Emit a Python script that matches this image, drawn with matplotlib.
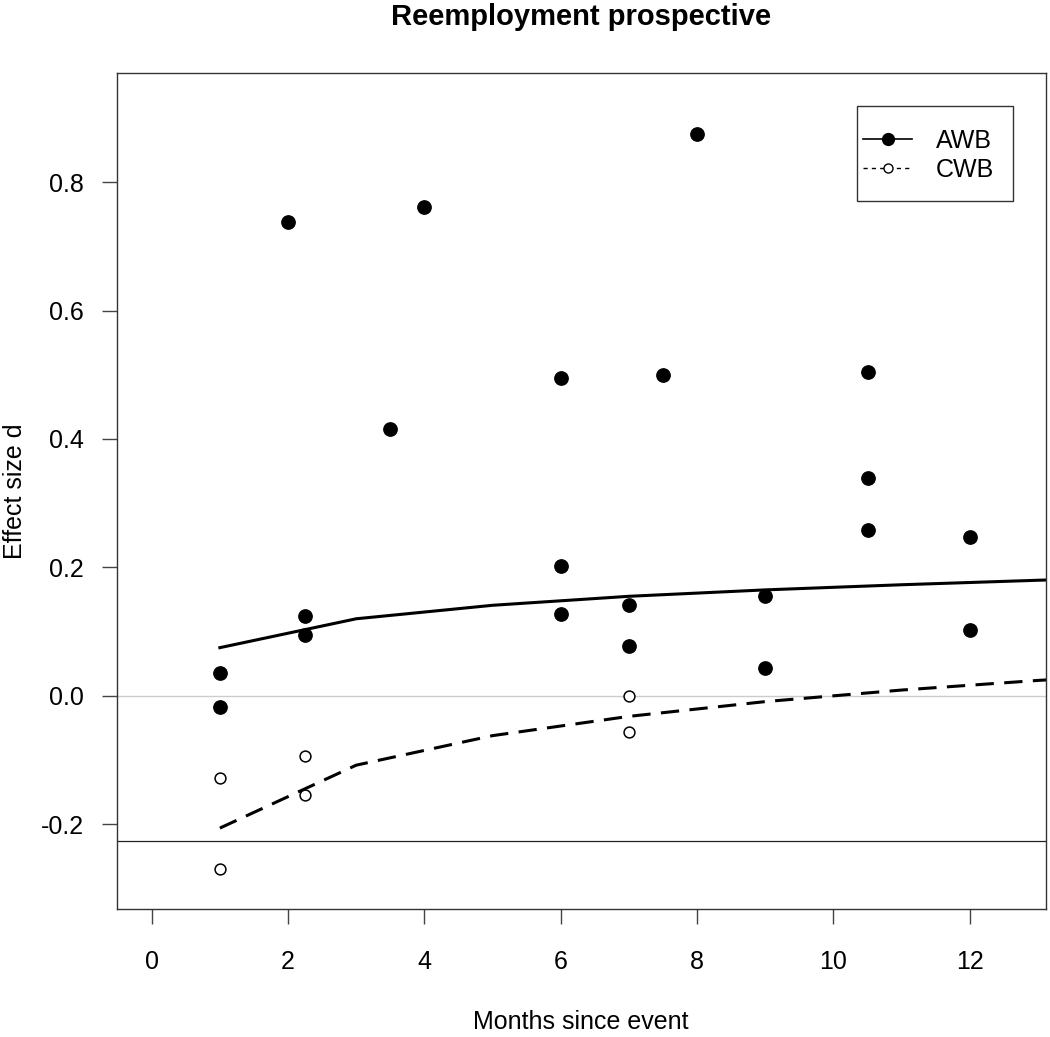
import numpy as np
import matplotlib
matplotlib.use("Agg")
import matplotlib.pyplot as plt
from matplotlib.lines import Line2D
from matplotlib.patches import Rectangle

plt.rcParams['font.family'] = ['Liberation Sans', 'DejaVu Sans']

# AWB study effects (filled points)
awb_months = [1, 1, 2, 2.25, 2.25, 3.5, 4, 6, 6, 6, 7, 7, 7.5, 8, 9, 9, 10.5, 10.5, 10.5, 12, 12]
awb_d = [0.035, -0.018, 0.738, 0.124, 0.095, 0.415, 0.761, 0.495, 0.202, 0.128,
         0.142, 0.077, 0.500, 0.875, 0.155, 0.043, 0.505, 0.339, 0.259, 0.247, 0.102]

# CWB study effects (open points)
cwb_months = [1, 1, 2.25, 2.25, 7, 7]
cwb_d = [-0.128, -0.269, -0.094, -0.154, 0.000, -0.057]

# fitted curves
fit_months = [1, 3, 5, 7, 9, 11, 13, 15]
awb_fit = [0.075, 0.120, 0.141, 0.155, 0.165, 0.173, 0.180, 0.186]
cwb_fit = [-0.206, -0.108, -0.062, -0.032, -0.009, 0.009, 0.024, 0.036]

ref_line = -0.226

xticks = [0, 2, 4, 6, 8, 10, 12]
yticks = [-0.2, 0.0, 0.2, 0.4, 0.6, 0.8]

fig = plt.figure(figsize=(10.5, 10.37), dpi=100)
W, H = 1050, 1037
left, right, top, bottom = 116.7, 1045.5, 73, 909
aw, ah = right - left, bottom - top
ax = fig.add_axes([left / W, 1 - bottom / H, aw / W, ah / H])


def ax_frac(px, py):
    # pixel position (from top-left of figure) -> axes fraction
    return (px - left) / aw, (bottom - py) / ah


ax.axhline(0, color='#cccccc', lw=1.0, zorder=1)
ax.axhline(ref_line, color='#222222', lw=0.9, zorder=1)

ax.plot(fit_months, awb_fit, color='black', lw=2.2, zorder=2)
ax.plot(fit_months, cwb_fit, color='black', lw=2.2, dashes=(6, 3.4), zorder=2)

ax.plot(awb_months, awb_d, 'o', color='black', ms=9.6, mec='black', zorder=3)
ax.plot(cwb_months, cwb_d, 'o', mfc='white', mec='black', ms=7.8, mew=1.1, zorder=3)

ax.set_xlim(-0.513, 13.11)
ax.set_ylim(-0.332, 0.970)
ax.set_xticks(xticks)
ax.set_xticklabels([str(t) for t in xticks])
ax.set_yticks(yticks)
ax.set_yticklabels(['%.1f' % t for t in yticks])
ax.tick_params(direction='out', length=10.5, width=1.0, color='#444444',
               labelsize=18, pad=19)
ax.tick_params(axis='y', pad=13)
for sp in ax.spines.values():
    sp.set_linewidth(1.0)
    sp.set_color('#333333')

ax.set_xlabel('Months since event', fontsize=18)
ax.xaxis.set_label_coords(0.5, ax_frac(0, 1022)[1])
ax.xaxis.label.set_va('center')
ax.set_ylabel('Effect size d', fontsize=18)
ax.yaxis.set_label_coords(ax_frac(15, 0)[0], 0.5)
ax.yaxis.label.set_va('center')

fig.text((left + right) / 2 / W, 1 - 17 / H, 'Reemployment prospective',
         fontsize=21, fontweight='bold', ha='center', va='center')

# legend box (R style, square frame)
bx0, by0 = ax_frac(857, 201)
bx1, by1 = ax_frac(1012.7, 105.7)
ax.add_patch(Rectangle((bx0, by0), bx1 - bx0, by1 - by0, transform=ax.transAxes,
                       fill=True, facecolor='white', edgecolor='#333333',
                       lw=1.0, zorder=4))

handles = [
    Line2D([], [], color='black', lw=1.2, marker='o', ms=8.5, mfc='black'),
    Line2D([], [], color='black', lw=1.0, dashes=(3, 3), marker='o', ms=6.5,
           mfc='white', mec='black'),
]
leg = ax.legend(handles, ['AWB', 'CWB'], loc='center left',
                bbox_to_anchor=ax_frac(863, 155.7),
                borderaxespad=0, borderpad=0, fontsize=18, frameon=False,
                handlelength=1.96, handletextpad=0.96, labelspacing=0.2)
leg.set_zorder(5)

fig.savefig('out.png', dpi=100)
